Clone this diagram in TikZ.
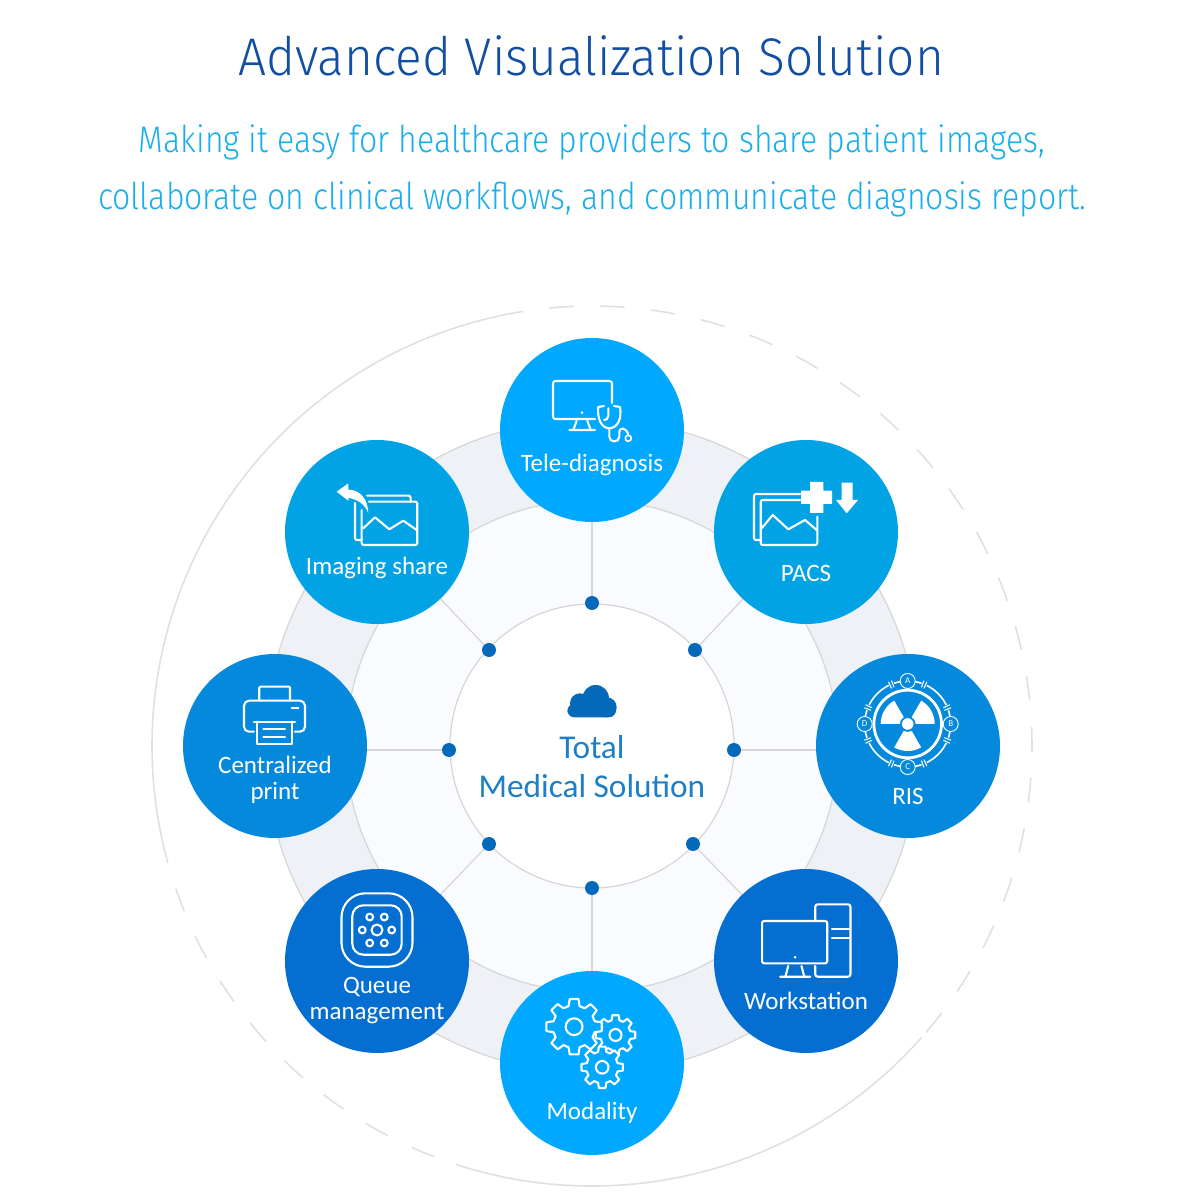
\documentclass[tikz,border=0pt]{standalone}
\usepackage{fontspec}
\usepackage{xcolor}
\usepackage{tikz}
\usetikzlibrary{backgrounds,calc}
\setmainfont{Carlito}
\newfontfamily\titlefont[FakeStretch=0.935]{Fira Sans Light}
\newfontfamily\subfont[FakeStretch=0.866]{Fira Sans Light}

\definecolor{titleblue}{HTML}{124FA2}
\definecolor{subblue}{HTML}{1AAEEB}
\definecolor{coreblue}{HTML}{1E7FC8}
\definecolor{dotblue}{HTML}{0569BA}
\definecolor{brightblue}{HTML}{00A8FF}
\definecolor{skyblue}{HTML}{02A3E4}
\definecolor{midblue}{HTML}{0489DD}
\definecolor{deepblue}{HTML}{046FD0}
\definecolor{bandgrey}{HTML}{EEF1F6}
\definecolor{innerpale}{HTML}{FAFBFE}
\definecolor{ringgrey}{HTML}{D6D6D6}

\newcommand{\gearicon}[4]{%
  \draw[iconline,fill=#4,shift={(#1,#2)}] (-15:#3*.76)
    \foreach \a in {0,45,...,315} {-- (\a-15:#3*.76) -- (\a-9:#3) -- (\a+9:#3) -- (\a+15:#3*.76)} -- cycle;
  \draw[iconline,shift={(#1,#2)}] (0,0) circle (#3*.3);
}

\tikzset{
  iconline/.style={draw=white, line width=2.1pt, line join=round, line cap=round},
  teleicon/.pic={
    \draw[iconline,rounded corners=2.5pt] (20,27) -- (20,49) -- (-39,49) -- (-39,11) -- (3,11);
    \fill[white] (-10,17.3) circle (1.5);
    \draw[iconline] (-22.7,0) -- (3,0) (-15.3,9.3) -- (-18.7,0) (-4.7,9.3) -- (-1.3,0);
    \draw[iconline] (12,24) -- (6.3,23) .. controls (5,12) and (9,2) .. (17.3,1.7) .. controls (26,2) and (30,12) .. (28,23) -- (22,24);
    \draw[iconline] (16.3,21.7) -- (16.3,14) .. controls (16,11) and (14,10) .. (12,10);
    \draw[iconline] (17.3,1.7) -- (17.3,-6.7) .. controls (17.3,-13) and (27.3,-13) .. (27.3,-6.7) -- (27.3,-1.7) .. controls (27.3,3) and (35,3) .. (36.3,-5.3);
    \draw[iconline,line width=1.6pt] (36.3,-8.3) circle (3);
  },
  pacsicon/.pic={
    \draw[iconline,rounded corners=2pt] (-6,38) -- (-52,38) -- (-52,-8) -- (-46,-8);
    \draw[iconline,rounded corners=2pt] (-6,32) -- (-45.3,32) -- (-45.3,-13) -- (11.3,-13) -- (11.3,15.3);
    \draw[iconline] (-44.3,3.7) -- (-33.3,17) -- (-17.7,2.7) -- (-1,12) -- (10.7,2);
    \fill[white] (4,19) rectangle (17.4,50.2) (-4.8,28) rectangle (26.2,41.4);
    \fill[white] (35.7,49.3) -- (46.7,49.3) -- (46.7,32) -- (52,32) -- (40.7,18.7) -- (30,32) -- (35.7,32) -- cycle;
  },
  shareicon/.pic={
    \draw[iconline,rounded corners=2pt] (-10,36.3) -- (33.7,36.3) -- (33.7,30.3);
    \draw[iconline,rounded corners=2pt] (-22,29) -- (-22,-8) -- (-15.3,-8);
    \draw[iconline,rounded corners=2pt] (-15.3,22) -- (-15.3,-13) -- (40.3,-13) -- (40.3,30.3) -- (-8,30.3);
    \draw[iconline] (-13.7,3.7) -- (-2,14.7) -- (12.3,2.7) -- (26.3,11.3) -- (39.7,2);
    \fill[white] (-40.3,40.3) -- (-28.7,48.7) -- (-28.7,42.5) .. controls (-16,42) and (-9,32) .. (-8.7,18.7) .. controls (-12,28) and (-20,33) .. (-28.7,34) -- (-28.7,31.3) -- cycle;
  },
  printicon/.pic={
    \draw[iconline,rounded corners=1pt] (-15.7,45.3) -- (-15.7,59.3) -- (15,59.3) -- (15,45.3);
    \draw[iconline,rounded corners=5pt] (-21,14.3) -- (-31,14.3) -- (-31,45.3) -- (30,45.3) -- (30,14.3) -- (20,14.3);
    \draw[iconline] (-21,24.3) -- (20,24.3);
    \draw[iconline] (-17.7,24.3) -- (-17.7,2) -- (16.7,2) -- (16.7,24.3);
    \draw[iconline] (-11.7,17) -- (10,17) (-11.7,9.3) -- (10,9.3) (16.7,37.7) -- (23.3,37.7);
  },
  risicon/.pic={
    \begin{scope}[shift={(-.3,22)}]
      \draw[iconline,line width=2.8pt] (0,0) circle (33.8);
      \draw[iconline,line width=1.6pt] (0,0) circle (43);
      \fill[white] (0,0) circle (5.8);
      \foreach \a in {0,120,240}
        \fill[white] (\a:8) -- (\a:27) arc[start angle=\a, end angle=\a+60, radius=27] -- (\a+60:8) arc[start angle=\a+60, end angle=\a, radius=8] -- cycle;
      \foreach \a in {22.5,67.5,...,337.5} {
        \fill[midblue] (\a:43) circle (3);
        \draw[iconline,line width=1.1pt] (\a-2:39.5) -- (\a-2:46) (\a+2:39.5) -- (\a+2:46);
      }
      \foreach \a/\t in {90/A,0/B,270/C,180/D} {
        \node[riscap] (ris\t) at (\a:43) {\t};
      }
    \end{scope}
  },
  riscap/.style={circle, draw=white, line width=.9pt, fill=midblue, text=white, minimum size=15pt, inner sep=0pt, font=\fontsize{9}{9}\selectfont},
  stationicon/.pic={
    \draw[iconline,rounded corners=2pt] (-43.9,-2.3) rectangle (21.2,40);
    \fill[white] (-10.9,3.7) circle (1.5);
    \draw[iconline] (-25.8,-15.7) -- (4.3,-15.7) (-17.8,-5) -- (-20.6,-15.7) (-4.5,-5) -- (-1.7,-15.7);
    \draw[iconline,rounded corners=2.5pt] (9.2,40) -- (9.2,56.7) -- (44.5,56.7) -- (44.5,-15.7) -- (9.2,-15.7) -- (9.2,-5);
    \draw[iconline] (26,31.7) -- (44,31.7) (26,22.7) -- (44,22.7);
  },
  gearsicon/.pic={
    \gearicon{23.5}{28}{20}{brightblue}
    \gearicon{-17.9}{36.3}{28}{brightblue}
    \gearicon{10.2}{-4.3}{21}{brightblue}
  },
  queueicon/.pic={
    \draw[iconline,rounded corners=24pt] (-35.5,-5.7) rectangle (35.5,67.7);
    \draw[iconline,rounded corners=11pt] (-24.7,6.3) rectangle (24.7,55.7);
    \begin{scope}[shift={(0,31)}]
      \draw[iconline] (0,0) circle (5.5);
      \foreach \x/\y in {-7.3/13,7.3/13,-14.7/0,14.7/0,-7.3/-13,7.3/-13}
        \draw[iconline] (\x,\y) circle (3.4);
    \end{scope}
  },
}

\begin{document}
\begin{tikzpicture}[
    x=1pt, y=1pt,
    sat/.style={circle, minimum size=184pt, inner sep=0pt},
    satlabel/.style={text=white, align=center, font=\fontsize{25}{26}\selectfont, inner sep=0pt},
    hub/.style={circle, fill=dotblue, minimum size=14pt, inner sep=0pt},
    ring/.style={draw=ringgrey, line width=1.2pt},
    spoke/.style={draw=ringgrey, line width=1.2pt},
    outerring/.style={draw=ringgrey!75, line width=1.6pt},
]
    \useasboundingbox (-592,-458) rectangle (608,746);

    \node[anchor=base, text=titleblue, font=\titlefont\fontsize{53}{60}\selectfont, inner sep=0pt] (title) at (-1,670) {Advanced Visualization Solution};
    \node[anchor=base, text=subblue, font=\subfont\fontsize{37}{40}\selectfont, inner sep=0pt] (sub1) at (0,593) {Making it easy for healthcare providers to share patient images,};
    \node[anchor=base, text=subblue, font=\subfont\fontsize{37}{40}\selectfont, inner sep=0pt] (sub2) at (0,536.5) {collaborate on clinical workflows, and communicate diagnosis report.};

    \node[sat, fill=brightblue] (tele) at (0,316) {};
    \node[sat, fill=skyblue] (pacs) at (214,214) {};
    \node[sat, fill=midblue] (ris) at (316,0) {};
    \node[sat, fill=deepblue] (station) at (214,-215) {};
    \node[sat, fill=brightblue] (modality) at (0,-317) {};
    \node[sat, fill=deepblue] (queue) at (-215,-215) {};
    \node[sat, fill=midblue] (print) at (-317,0) {};
    \node[sat, fill=skyblue] (share) at (-215,214) {};

    \node[hub] (hubT) at (0,143) {};
    \node[hub] (hubTR) at (103,96) {};
    \node[hub] (hubR) at (142,-4) {};
    \node[hub] (hubBR) at (101,-98) {};
    \node[hub] (hubB) at (0,-142) {};
    \node[hub] (hubBL) at (-103,-98) {};
    \node[hub] (hubL) at (-143,-4) {};
    \node[hub] (hubTL) at (-103,96) {};

    \begin{scope}[on background layer]
        \draw[ring, fill=bandgrey] (0,0) circle (327);
        \draw[ring, fill=innerpale] (0,0) circle (246);
        \draw[ring, fill=white] (0,0) circle (142);
        \draw[outerring] (99:440) arc[start angle=99, end angle=195.4, radius=440];
        \draw[outerring] (252:440) arc[start angle=252, end angle=318.5, radius=440];
        \foreach \a in {0,...,20}
            \draw[outerring] (95.6-6.65*\a:440) arc[start angle=95.6-6.65*\a, end angle=92.4-6.65*\a, radius=440];
        \foreach \a in {0,...,7}
            \draw[outerring] (198.9+6.7*\a:440) arc[start angle=198.9+6.7*\a, end angle=202.1+6.7*\a, radius=440];

        \draw[spoke] (tele) -- (hubT);
        \draw[spoke] (pacs) -- (hubTR);
        \draw[spoke] (hubR -| ris) -- (hubR);
        \draw[spoke] (station) -- (hubBR);
        \draw[spoke] (modality) -- (hubB);
        \draw[spoke] (queue) -- (hubBL);
        \draw[spoke] (hubL -| print) -- (hubL);
        \draw[spoke] (share) -- (hubTL);
    \end{scope}

    % cloud over the centre text
    \fill[dotblue] (3.7,47.7) circle (13.3) (-12,42.7) circle (10) (14.7,38.7) circle (10);
    \fill[dotblue, rounded corners=7pt] (-24.7,28.7) rectangle (24,42);
    \node[anchor=base, text=coreblue, font=\fontsize{33.3}{35}\selectfont, inner sep=0pt] (total) at (0,-13) {Total};
    \node[anchor=base, text=coreblue, font=\fontsize{33.3}{35}\selectfont, inner sep=0pt] (medical) at (0,-51.5) {Medical Solution};

    \pic at (tele) {teleicon};
    \pic at (pacs) {pacsicon};
    \pic at (share) {shareicon};
    \pic at (print) {printicon};
    \pic at (ris) {risicon};
    \pic at (station) {stationicon};
    \pic at (modality) {gearsicon};
    \pic at (queue) {queueicon};

    \node[satlabel, anchor=base] (teleL) at ($(tele)+(0,-42)$) {Tele-diagnosis};
    \node[satlabel, anchor=base] (pacsL) at ($(pacs)+(0,-50)$) {PACS};
    \node[satlabel, anchor=base] (risL) at ($(ris)+(0,-58.5)$) {RIS};
    \node[satlabel, anchor=base] (stationL) at ($(station)+(0,-48.5)$) {Workstation};
    \node[satlabel, anchor=base] (modalityL) at ($(modality)+(0,-56)$) {Modality};
    \node[satlabel, anchor=base] (shareL) at ($(share)+(0,-43)$) {Imaging share};
    \node[satlabel] (printL) at ($(print)+(0,-33.5)$) {Centralized\\print};
    \node[satlabel] (queueL) at ($(queue)+(0,-40)$) {Queue\\management};
\end{tikzpicture}
\end{document}
